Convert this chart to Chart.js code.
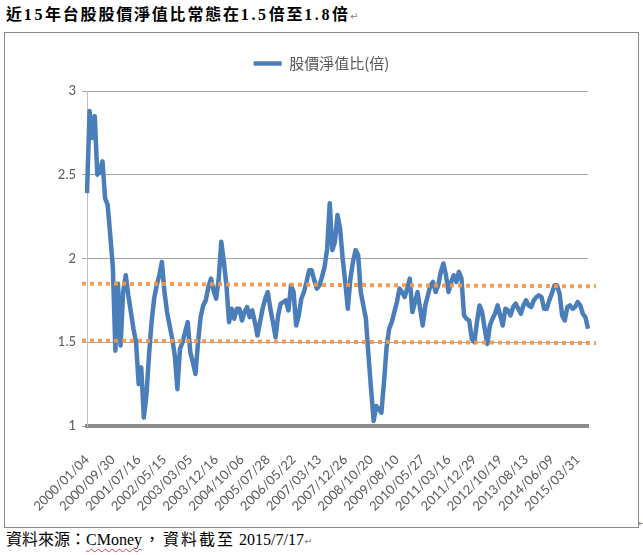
<!DOCTYPE html>
<html>
<head>
<meta charset="utf-8">
<script src="https://cdn.jsdelivr.net/npm/chart.js@4.4.1/dist/chart.umd.min.js"></script>
<style>
  html, body { margin: 0; padding: 0; background: #fff; }
  body { width: 643px; height: 555px; position: relative; overflow: hidden; }
  #title {
    position: absolute; left: 6px; top: 4px; white-space: nowrap;
    font-family: "Liberation Serif", "Noto Sans CJK TC", serif;
    font-weight: bold; font-size: 16px; line-height: 22px; letter-spacing: 1.8px; color: #000;
  }
  #title .num { letter-spacing: 2.6px; }
  .ret { font-family: "DejaVu Sans", sans-serif; font-weight: normal; font-size: 10px; color: #888; letter-spacing: 0; }
  #frame {
    position: absolute; left: 4px; top: 32px; width: 635px; height: 496px;
    box-sizing: border-box; border: 1px solid #8a8a8a;
  }
  #wrap { position: absolute; left: 0px; top: 0px; width: 633px; height: 494px; }
  #footer {
    position: absolute; left: 6px; top: 530px; white-space: nowrap;
    font-family: "Liberation Serif", "Noto Sans CJK TC", serif;
    font-size: 16px; line-height: 20px; color: #000;
  }
  #footer .sp { text-decoration: underline wavy #d04040; text-decoration-thickness: 1px; text-underline-offset: 3px; }
  #footer .wide { letter-spacing: 2px; }
  #footer .gap { margin-left: 2px; margin-right: 3px; }
  #mark { position: absolute; left: 638px; top: 518px; font-family: "DejaVu Sans", sans-serif; font-size: 9px; color: #888; }
</style>
</head>
<body>
<div id="title">近<span class="num">15</span>年台股股價淨值比常態在<span class="num">1.5</span>倍至<span class="num">1.8</span>倍<span class="ret">↵</span></div>
<div id="frame"><div id="wrap"><canvas id="c"></canvas></div></div>
<div id="mark">↵</div>
<div id="footer">資料來源：<span class="sp">CMoney</span><span class="gap">，</span><span class="wide">資料截至</span> 2015/7/17<span class="ret">↵</span></div>
<script>
// ---- data ----
const seriesName = '股價淨值比(倍)';
const tickLabels = ['2000/01/04','2000/09/30','2001/07/16','2002/05/15','2003/03/05','2003/12/16','2004/10/06','2005/07/28','2006/05/22','2007/03/13','2007/12/26','2008/10/20','2009/08/10','2010/05/27','2011/03/16','2011/12/29','2012/10/19','2013/08/13','2014/06/09','2015/03/31'];
const pbr = [
  2.39, 2.88, 2.72, 2.85, 2.50, 2.52, 2.58, 2.36, 2.32, 2.14,
  1.95, 1.45, 1.85, 1.48, 1.80, 1.90, 1.78, 1.68, 1.58, 1.50,
  1.25, 1.35, 1.05, 1.18, 1.42, 1.62, 1.76, 1.84, 1.90, 1.98,
  1.80, 1.68, 1.60, 1.52, 1.42, 1.22, 1.46, 1.50, 1.56, 1.62,
  1.44, 1.38, 1.31, 1.50, 1.65, 1.72, 1.75, 1.83, 1.88, 1.81,
  1.76, 1.88, 2.10, 1.98, 1.84, 1.62, 1.70, 1.64, 1.70, 1.70,
  1.63, 1.68, 1.71, 1.65, 1.69, 1.62, 1.54, 1.62, 1.70, 1.76,
  1.80, 1.70, 1.62, 1.53, 1.66, 1.73, 1.74, 1.75, 1.69, 1.84,
  1.80, 1.60, 1.66, 1.76, 1.80, 1.86, 1.93, 1.93, 1.87, 1.82,
  1.84, 1.89, 1.95, 2.06, 2.33, 2.05, 2.10, 2.26, 2.18, 2.00,
  1.86, 1.70, 1.88, 1.98, 2.05, 2.02, 1.80, 1.72, 1.64, 1.42,
  1.22, 1.03, 1.12, 1.10, 1.08, 1.26, 1.47, 1.58, 1.62, 1.68,
  1.74, 1.82, 1.80, 1.77, 1.82, 1.88, 1.68, 1.74, 1.80, 1.70,
  1.60, 1.72, 1.78, 1.84, 1.86, 1.80, 1.84, 1.92, 1.97, 1.90,
  1.80, 1.86, 1.90, 1.86, 1.92, 1.88, 1.66, 1.64, 1.63, 1.52,
  1.50, 1.62, 1.72, 1.68, 1.58, 1.49, 1.60, 1.64, 1.67, 1.72,
  1.66, 1.60, 1.70, 1.69, 1.66, 1.71, 1.73, 1.70, 1.67, 1.72,
  1.75, 1.72, 1.71, 1.75, 1.77, 1.78, 1.77, 1.70, 1.70, 1.75,
  1.79, 1.84, 1.84, 1.79, 1.66, 1.63, 1.71, 1.72, 1.70, 1.71,
  1.74, 1.72, 1.67, 1.65, 1.58
];
const upperBand = [1.85, 1.834];
const lowerBand = [1.51, 1.495];
const labelStep = 10;

// ---- chart ----
const blue = '#4A7EBB';
const orange = 'rgba(246,150,72,0.92)';
const categories = pbr.map((_, i) => String(i));

const legendSpacer = {
  id: 'legendSpacer',
  beforeInit(chart) {
    const orig = chart.legend.fit;
    chart.legend.fit = function () { orig.call(this); this.height += 10; };
  }
};

new Chart(document.getElementById('c'), {
  type: 'line',
  data: {
    labels: categories,
    datasets: [
      { label: seriesName, data: pbr, xAxisID: 'x', yAxisID: 'y', borderColor: blue, backgroundColor: blue,
        borderWidth: 4.5, pointRadius: 0, pointStyle: 'line', tension: 0, order: 1, borderJoinStyle: 'round' },
      { label: 'upper', data: upperBand.map((v, i) => ({ x: i, y: v })), xAxisID: 'x2', yAxisID: 'y',
        borderColor: orange, borderWidth: 4, borderDash: [4, 4], pointRadius: 0, clip: false, order: 0 },
      { label: 'lower', data: lowerBand.map((v, i) => ({ x: i, y: v })), xAxisID: 'x2', yAxisID: 'y',
        borderColor: orange, borderWidth: 4, borderDash: [4, 4], pointRadius: 0, clip: false, order: 0 }
    ]
  },
  options: {
    responsive: true, maintainAspectRatio: false, animation: false,
    layout: { padding: { top: 13, left: 0, right: 0, bottom: 0 } },
    plugins: {
      legend: {
        position: 'top', align: 'center',
        labels: {
          filter: item => item.datasetIndex === 0,
          usePointStyle: true, pointStyle: 'line', pointStyleWidth: 28,
          color: '#595959', padding: 10,
          font: { family: '"Noto Sans CJK TC", sans-serif', size: 15 }
        }
      },
      tooltip: { enabled: false }
    },
    scales: {
      x: {
        type: 'category', offset: false,
        grid: { display: false },
        border: { display: true, color: '#8c8c8c', width: 4 },
        ticks: {
          autoSkip: false, minRotation: 45, maxRotation: 45, padding: 18,
          color: '#595959', font: { family: 'Lato, sans-serif', size: 13 },
          callback: (v, i) => (i % labelStep === 0 ? tickLabels[i / labelStep] : '')
        },
        afterFit: s => { s.height = 101; }
      },
      x2: { type: 'linear', display: false, min: 0.00975, max: 0.9844 },
      y: {
        position: 'left', min: 1, max: 3,
        ticks: { stepSize: 0.5, color: '#595959', padding: 6, font: { family: 'Lato, sans-serif', size: 13 },
                 callback: v => String(Number(v)) },
        grid: { color: '#a6a6a6', lineWidth: 1, tickLength: 5, drawTicks: true },
        border: { display: true, color: '#bfbfbf', width: 1 },
        afterFit: s => { s.width = 82; }
      },
      yRight: {
        position: 'right', min: 1, max: 3, display: true,
        ticks: { display: false }, grid: { display: false, drawTicks: false }, border: { display: false },
        afterFit: s => { s.width = 50; }
      }
    }
  },
  plugins: [legendSpacer]
});
</script>
</body>
</html>
